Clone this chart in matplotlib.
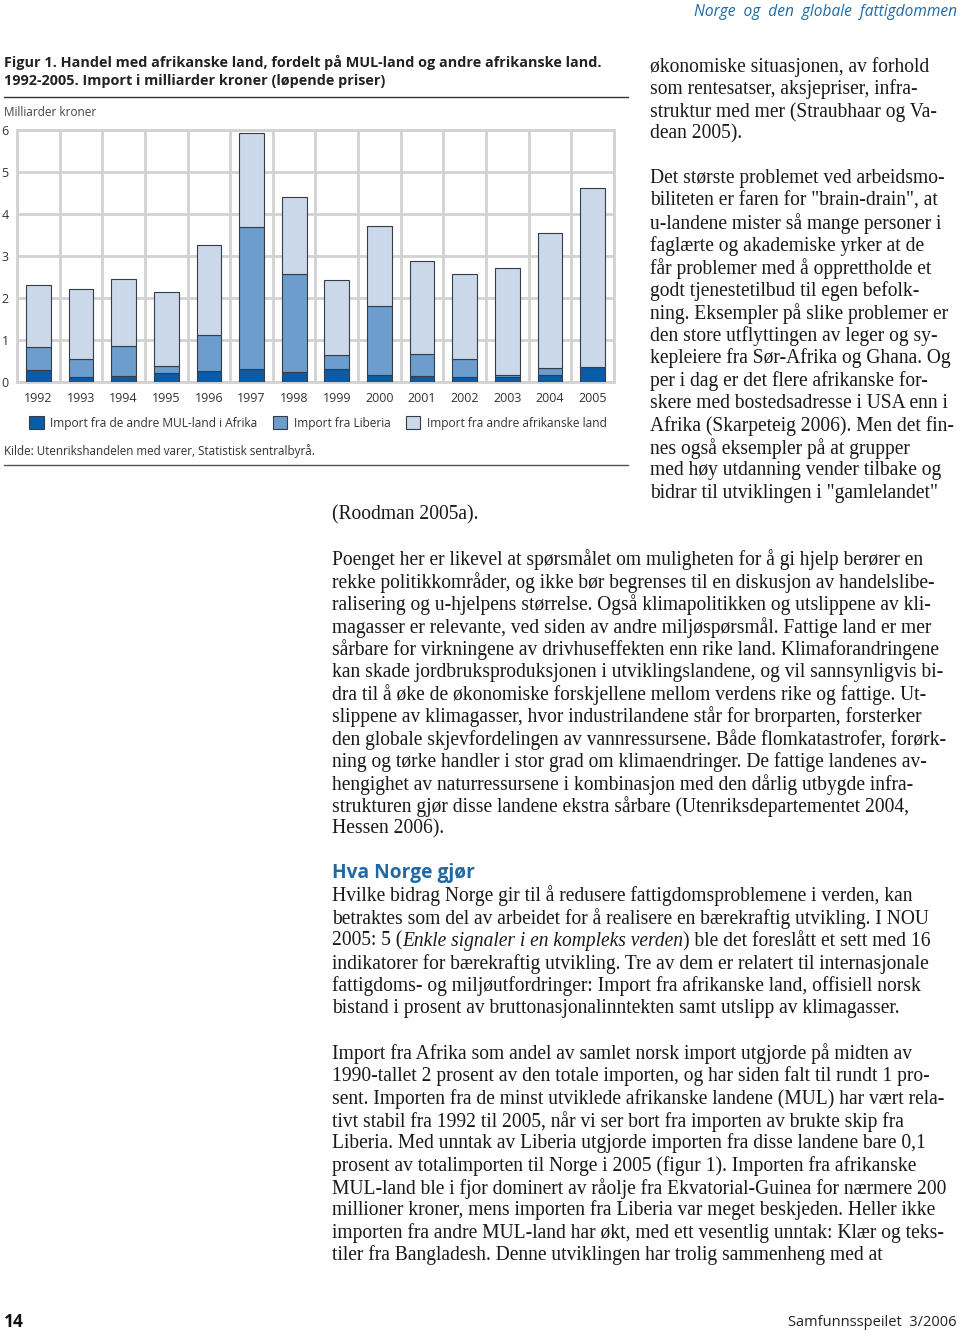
import matplotlib
matplotlib.use('Agg')
import numpy as np
import matplotlib.pyplot as plt

W, H = 960, 1334
fig = plt.figure(figsize=(9.6, 13.34), dpi=100)
fig.patch.set_facecolor('white')


def fx(x):
    return x / W


def fy(y):
    return 1 - y / H


# data (billion NOK)
years = ['1992', '1993', '1994', '1995', '1996', '1997', '1998',
         '1999', '2000', '2001', '2002', '2003', '2004', '2005']
mul_other = [0.28, 0.13, 0.15, 0.22, 0.26, 0.32, 0.23,
             0.30, 0.16, 0.15, 0.13, 0.13, 0.16, 0.36]
liberia = [0.55, 0.42, 0.71, 0.16, 0.87, 3.36, 2.33,
           0.34, 1.65, 0.52, 0.42, 0.04, 0.18, 0.00]
other_africa = [1.47, 1.66, 1.60, 1.77, 2.12, 2.26, 1.85,
                1.78, 1.91, 2.21, 2.01, 2.54, 3.21, 4.26]
series_names = ['Import fra de andre MUL-land i Afrika', 'Import fra Liberia',
                'Import fra andre afrikanske land']

SANS = 'Open Sans'
SERIF = 'Liberation Serif'
BLUE_HEAD = '#1f6aa5'
dark = '#0b5ca6'
mid = '#6d9dcc'
light = '#cbd8ea'
grid_c = '#d2d2d2'

# ---- chart ----
ax = fig.add_axes([fx(17), fy(382), (614 - 17) / W, (382 - 130) / H])
x = np.arange(len(years))
mul = np.array(mul_other)
lib = np.array(liberia)
oth = np.array(other_africa)
kw = dict(width=0.58, edgecolor='#353c48', linewidth=0.8, zorder=3)
b1 = ax.bar(x, mul, color=dark, label=series_names[0], **kw)
b2 = ax.bar(x, lib, bottom=mul, color=mid, label=series_names[1], **kw)
b3 = ax.bar(x, oth, bottom=mul + lib, color=light, label=series_names[2], **kw)
ax.set_xlim(-0.5, len(years) - 0.5)
ax.set_ylim(0, 6)
ax.set_yticks(range(7))
ax.set_xticks(x, years)
ax.set_xticks(np.arange(-0.5, len(years)), minor=True)
ax.grid(axis='y', which='major', color=grid_c, lw=2, zorder=0)
ax.grid(axis='x', which='minor', color=grid_c, lw=2, zorder=0)
ax.tick_params(which='both', length=0, labelsize=9, colors='#333333')
ax.tick_params(axis='x', pad=7)
ax.tick_params(axis='y', pad=6)
for lab in ax.get_xticklabels() + ax.get_yticklabels():
    lab.set_fontfamily(SANS)
for s in ax.spines.values():
    s.set_color(grid_c)
    s.set_linewidth(2)

fig.legend(handles=[b1, b2, b3], loc='center', bbox_to_anchor=(fx(318), fy(423)),
           ncol=3, frameon=False, prop={'family': SANS, 'size': 8.6},
           handlelength=1.2, handleheight=1.2, handletextpad=0.55,
           columnspacing=1.3, borderpad=0, labelcolor='#333333')

# ---- chart texts ----
fig.text(fx(4), fy(63), 'Figur 1. Handel med afrikanske land, fordelt på MUL-land og andre afrikanske land.',
         family=SANS, weight='bold', size=10.4, va='center', color='#222222')
fig.text(fx(4), fy(81), '1992-2005. Import i milliarder kroner (løpende priser)',
         family=SANS, weight='bold', size=10.4, va='center', color='#222222')
fig.add_artist(plt.Line2D([fx(4), fx(628)], [fy(97), fy(97)], color='#333333', lw=1))
fig.text(fx(4), fy(112), 'Milliarder kroner', family=SANS, size=8.5, va='center', color='#444444')
fig.text(fx(4), fy(451), 'Kilde: Utenrikshandelen med varer, Statistisk sentralbyrå.',
         family=SANS, size=8.4, va='center', color='#333333')
fig.add_artist(plt.Line2D([fx(4), fx(628)], [fy(465), fy(465)], color='#555555', lw=1))

# header / footer
fig.text(fx(957), fy(12), 'Norge  og  den  globale  fattigdommen', family=SANS, style='italic',
         size=11.2, color=BLUE_HEAD, ha='right', va='center')
fig.text(fx(4), fy(1322), '14', family=SANS, weight='bold', size=12.5, va='center', color='#111111')
fig.text(fx(957), fy(1322), 'Samfunnsspeilet  3/2006', family=SANS, size=10.5, ha='right',
         va='center', color='#222222')

# ---- body text ----
renderer = fig.canvas.get_renderer()
BODY = 14.05
LINE = 22.43


def put_lines(x0, y0, lines, step=LINE):
    for i, ln in enumerate(lines):
        y = y0 + i * step
        if isinstance(ln, str):
            ln = [(ln, 'normal')]
        xc = x0
        for seg, style in ln:
            t = fig.text(fx(xc), fy(y), seg, family=SERIF, size=BODY, style=style,
                         va='center', color='#1a1a1a')
            xc += t.get_window_extent(renderer).width


right_a = [
    'økonomiske situasjonen, av forhold',
    'som rentesatser, aksjepriser, infra-',
    'struktur med mer (Straubhaar og Va-',
    'dean 2005).',
]
right_b = [
    'Det største problemet ved arbeidsmo-',
    'biliteten er faren for "brain-drain", at',
    'u-landene mister så mange personer i',
    'faglærte og akademiske yrker at de',
    'får problemer med å opprettholde et',
    'godt tjenestetilbud til egen befolk-',
    'ning. Eksempler på slike problemer er',
    'den store utflyttingen av leger og sy-',
    'kepleiere fra Sør-Afrika og Ghana. Og',
    'per i dag er det flere afrikanske for-',
    'skere med bostedsadresse i USA enn i',
    'Afrika (Skarpeteig 2006). Men det fin-',
    'nes også eksempler på at grupper',
    'med høy utdanning vender tilbake og',
    'bidrar til utviklingen i "gamlelandet"',
]
para1 = [
    'Poenget her er likevel at spørsmålet om muligheten for å gi hjelp berører en',
    'rekke politikkområder, og ikke bør begrenses til en diskusjon av handelslibe-',
    'ralisering og u-hjelpens størrelse. Også klimapolitikken og utslippene av kli-',
    'magasser er relevante, ved siden av andre miljøspørsmål. Fattige land er mer',
    'sårbare for virkningene av drivhuseffekten enn rike land. Klimaforandringene',
    'kan skade jordbruksproduksjonen i utviklingslandene, og vil sannsynligvis bi-',
    'dra til å øke de økonomiske forskjellene mellom verdens rike og fattige. Ut-',
    'slippene av klimagasser, hvor industrilandene står for brorparten, forsterker',
    'den globale skjevfordelingen av vannressursene. Både flomkatastrofer, forørk-',
    'ning og tørke handler i stor grad om klimaendringer. De fattige landenes av-',
    'hengighet av naturressursene i kombinasjon med den dårlig utbygde infra-',
    'strukturen gjør disse landene ekstra sårbare (Utenriksdepartementet 2004,',
    'Hessen 2006).',
]
para2 = [
    'Hvilke bidrag Norge gir til å redusere fattigdomsproblemene i verden, kan',
    'betraktes som del av arbeidet for å realisere en bærekraftig utvikling. I NOU',
    [('2005: 5 (', 'normal'), ('Enkle signaler i en kompleks verden', 'italic'),
     (') ble det foreslått et sett med 16', 'normal')],
    'indikatorer for bærekraftig utvikling. Tre av dem er relatert til internasjonale',
    'fattigdoms- og miljøutfordringer: Import fra afrikanske land, offisiell norsk',
    'bistand i prosent av bruttonasjonalinntekten samt utslipp av klimagasser.',
]
para3 = [
    'Import fra Afrika som andel av samlet norsk import utgjorde på midten av',
    '1990-tallet 2 prosent av den totale importen, og har siden falt til rundt 1 pro-',
    'sent. Importen fra de minst utviklede afrikanske landene (MUL) har vært rela-',
    'tivt stabil fra 1992 til 2005, når vi ser bort fra importen av brukte skip fra',
    'Liberia. Med unntak av Liberia utgjorde importen fra disse landene bare 0,1',
    'prosent av totalimporten til Norge i 2005 (figur 1). Importen fra afrikanske',
    'MUL-land ble i fjor dominert av råolje fra Ekvatorial-Guinea for nærmere 200',
    'millioner kroner, mens importen fra Liberia var meget beskjeden. Heller ikke',
    'importen fra andre MUL-land har økt, med ett vesentlig unntak: Klær og teks-',
    'tiler fra Bangladesh. Denne utviklingen har trolig sammenheng med at',
]

put_lines(650, 67, right_a)
put_lines(650, 179, right_b)
put_lines(332, 515, ['(Roodman 2005a).'])
put_lines(332, 560, para1)
fig.text(fx(332), fy(873), 'Hva Norge gjør', family=SANS, weight='bold', size=13.8,
         color=BLUE_HEAD, va='center')
put_lines(332, 896, para2, step=22.6)
put_lines(332, 1054, para3, step=22.35)

fig.savefig('out.png', dpi=100, facecolor='white')
